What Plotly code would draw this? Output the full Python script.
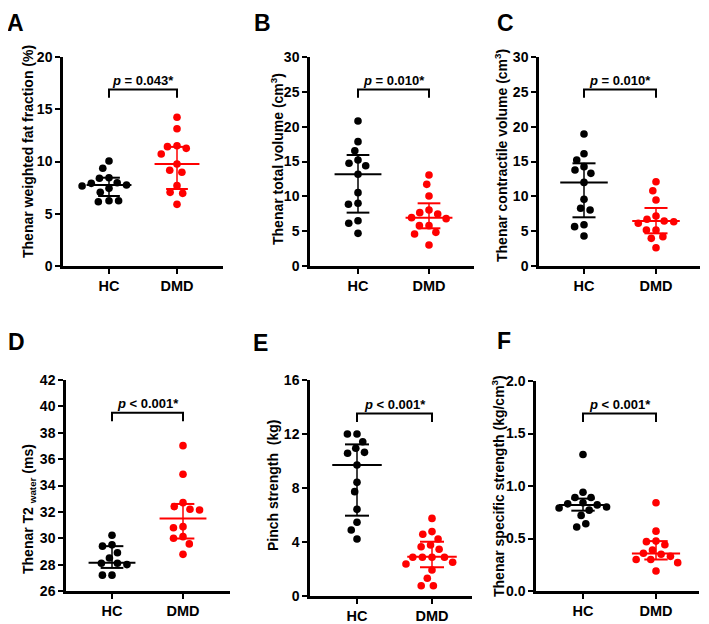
import numpy as np
import plotly.graph_objects as go

categories = ["HC", "DMD"]

# Panel A: Thenar weighted fat fraction (%)
a_hc = [10.05, 9.35, 8.4, 8.45, 7.97, 7.75, 7.65, 7.91, 7.43, 7.05, 6.15, 6.25, 6.25]
a_dmd = [14.23, 13.14, 11.51, 11.42, 11.26, 10.72, 9.76, 8.97, 9.16, 7.69, 6.95, 7.05, 5.9]
a_med = [7.75, 9.76]
a_q1 = [6.7, 7.37]
a_q3 = [8.45, 11.4]

# Panel B: Thenar total volume (cm3)
b_hc = [20.81, 17.85, 16.55, 15.22, 14.74, 14.4, 13.16, 10.53, 9.0, 8.86, 6.13, 6.5, 4.69]
b_dmd = [13.06, 11.72, 10.05, 8.04, 7.66, 7.46, 6.8, 6.94, 5.79, 5.79, 4.83, 4.6, 3.02]
b_med = [13.16, 6.94]
b_q1 = [7.66, 5.41]
b_q3 = [15.93, 9.0]

# Panel C: Thenar contractile volume (cm3)
c_hc = [18.95, 16.12, 15.22, 13.78, 14.26, 13.3, 12.0, 9.57, 8.28, 8.04, 5.93, 5.65, 4.31]
c_dmd = [12.1, 10.8, 9.47, 6.7, 7.18, 6.13, 6.36, 6.46, 5.17, 5.17, 4.21, 3.97, 2.63]
c_med = [12.0, 6.46]
c_q1 = [6.99, 4.69]
c_q3 = [14.74, 8.33]

# Panel D: Thenar T2 water (ms)
d_hc = [30.23, 29.5, 29.4, 28.9, 28.5, 28.1, 28.1, 28.0, 27.2, 27.2]
d_dmd = [37.02, 34.85, 32.7, 32.2, 32.14, 32.4, 30.88, 30.8, 30.12, 30.0, 29.57, 28.78]
d_med = [28.15, 31.5]
d_q1 = [27.75, 29.98]
d_q3 = [29.4, 32.6]

# Panel E: Pinch strength (kg)
e_hc = [12.0, 12.0, 11.43, 10.64, 10.94, 10.57, 9.7, 8.42, 7.73, 6.42, 5.46, 4.89, 4.22]
e_dmd = [5.75, 4.77, 4.57, 4.22, 3.65, 3.78, 3.46, 2.87, 2.87, 2.87, 2.5, 2.87, 2.37,
         1.93, 1.31, 0.76, 0.76]
e_med = [9.7, 2.91]
e_q1 = [5.95, 2.13]
e_q3 = [11.23, 4.02]

# Panel F: Thenar specific strength (kg/cm3)
f_hc = [1.30, 0.94, 0.89, 0.89, 0.84, 0.83, 0.82, 0.80, 0.79, 0.77, 0.72, 0.64, 0.61]
f_dmd = [0.84, 0.57, 0.475, 0.47, 0.44, 0.39, 0.36, 0.35, 0.33, 0.30, 0.30, 0.27, 0.19]
f_med = [0.82, 0.358]
f_q1 = [0.765, 0.30]
f_q3 = [0.88, 0.475]

letters = ["A", "B", "C", "D", "E", "F"]
y_titles = [
    "Thenar weighted fat fraction (%)",
    "Thenar total volume (cm<sup>3</sup>)",
    "Thenar contractile volume (cm<sup>3</sup>)",
    "Thenar T2 <sub>water</sub> (ms)",
    "Pinch strength  (kg)",
    "Thenar specific strength (kg/cm<sup>3</sup>)",
]
p_labels = ["<i>p</i> = 0.043*", "<i>p</i> = 0.010*", "<i>p</i> = 0.010*",
            "<i>p</i> < 0.001*", "<i>p</i> < 0.001*", "<i>p</i> < 0.001*"]
y_ranges = [(0, 20), (0, 30), (0, 30), (26, 42), (0, 16), (0, 2)]
y_dticks = [5, 5, 5, 2, 4, 0.5]

data = [
    (a_hc, a_dmd, a_med, a_q1, a_q3),
    (b_hc, b_dmd, b_med, b_q1, b_q3),
    (c_hc, c_dmd, c_med, c_q1, c_q3),
    (d_hc, d_dmd, d_med, d_q1, d_q3),
    (e_hc, e_dmd, e_med, e_q1, e_q3),
    (f_hc, f_dmd, f_med, f_q1, f_q3),
]

# page has an 8 px body margin; positions below are in window pixels
OFF = 8
W, H = 709 - OFF, 624 - OFF
# x0, x1, hc_x, spacing, ytop, ybot, title_x, title_yc, letter_x, letter_y
boxes = [
    (63, 223, 109, 68, 57, 266, 28, 152, 15, 23),
    (310, 474, 358, 71, 57, 266, 277, 159, 262, 23),
    (539, 700, 584, 72, 57, 266, 501, 156, 505, 23),
    (66, 230, 112, 71, 380, 591, 29, 509, 16, 342),
    (310, 472, 357, 75, 380, 596, 273, 486, 260, 343),
    (536, 699, 583, 73, 381, 591, 498, 486, 504, 341),
]


def fx(px):
    return (px - OFF) / W


def fy(py):
    return 1 - (py - OFF) / H


colors = ["#000000", "#FF0000"]
FONT = "Arial, Liberation Sans, sans-serif"
DOT_PX = 9.6


def swarm(vals, ppu_x, ppu_y, dpx=DOT_PX):
    vals = np.asarray(vals, dtype=float)
    order = np.argsort(-vals, kind="stable")
    placed = []
    xs = np.zeros(len(vals))
    for i in order:
        y = vals[i] * ppu_y
        cands = [0.0]
        for (px, py) in placed:
            dy = abs(py - y)
            if dy < dpx:
                dx = np.sqrt(dpx ** 2 - dy ** 2)
                cands += [px + dx, px - dx]
        ok = [c for c in cands
              if all((c - px) ** 2 + (y - py) ** 2 >= dpx ** 2 - 1e-6 for px, py in placed)]
        best = min(ok, key=lambda c: (abs(c), c))
        placed.append((best, y))
        xs[i] = best / ppu_x
    return xs


fig = go.Figure()
annotations = []
shapes = []

for k in range(6):
    x0, x1, hcx, sp, ytop, ybot, tx, tyc, lx, ly = boxes[k]
    hc, dmd, med, q1, q3 = data[k]
    ymin, ymax = y_ranges[k]
    ppu_y = (ybot - ytop) / (ymax - ymin)
    sfx = "" if k == 0 else str(k + 1)
    xa, ya = "x" + sfx, "y" + sfx

    # summary lines (median with interquartile range)
    for g in range(2):
        lx_, ly_ = [], []
        lx_ += [g - 0.33, g + 0.33, None]
        ly_ += [med[g], med[g], None]
        lx_ += [g - 0.16, g + 0.16, None, g - 0.16, g + 0.16, None]
        ly_ += [q1[g], q1[g], None, q3[g], q3[g], None]
        fig.add_trace(go.Scatter(x=lx_, y=ly_, mode="lines", xaxis=xa, yaxis=ya,
                                 line=dict(color=colors[g], width=2),
                                 showlegend=False, hoverinfo="skip"))
        fig.add_trace(go.Scatter(x=[g, g], y=[q1[g], q3[g]], mode="lines", xaxis=xa, yaxis=ya,
                                 line=dict(color=colors[g], width=1.5),
                                 showlegend=False, hoverinfo="skip"))

    for g, vals in enumerate([hc, dmd]):
        offs = swarm(vals, sp, ppu_y)
        fig.add_trace(go.Scatter(x=g + offs, y=vals, mode="markers", xaxis=xa, yaxis=ya,
                                 marker=dict(color=colors[g], size=7.6, line=dict(width=0)),
                                 showlegend=False, name=categories[g]))

    xr = [(x0 - hcx) / sp, (x1 - hcx) / sp]
    axis_common = dict(showline=True, linecolor="black", linewidth=2.5, ticks="outside",
                       ticklen=5, tickwidth=2, tickcolor="black", showgrid=False,
                       zeroline=False, mirror=False, automargin=False)
    fig.update_layout(**{
        ("xaxis" + sfx): dict(domain=[fx(x0), fx(x1)], range=xr, anchor=ya,
                              tickvals=[0, 1], ticktext=categories,
                              tickfont=dict(family=FONT, size=14.5, color="black", weight="bold"),
                              **axis_common),
        ("yaxis" + sfx): dict(domain=[fy(ybot), fy(ytop)], range=[ymin, ymax], anchor=xa,
                              dtick=y_dticks[k], tick0=ymin,
                              tickformat=".1f" if k == 5 else "d",
                              tickfont=dict(family=FONT, size=14, color="black", weight="bold"),
                              **axis_common),
    })

    # y title
    annotations.append(dict(text="<b>" + y_titles[k] + "</b>", x=fx(tx), y=fy(tyc),
                            xref="paper", yref="paper", textangle=-90, showarrow=False,
                            xanchor="center", yanchor="middle",
                            font=dict(family=FONT, size=14, color="black")))
    # panel letter
    annotations.append(dict(text="<b>" + letters[k] + "</b>", x=fx(lx), y=fy(ly),
                            xref="paper", yref="paper", showarrow=False,
                            xanchor="center", yanchor="middle", borderpad=0,
                            font=dict(family=FONT, size=23, color="black")))
    # significance bracket
    shapes.append(dict(type="path", xref=xa, yref=ya + " domain",
                       path="M 0,0.805 L 0,0.845 L 1,0.845 L 1,0.805",
                       line=dict(color="black", width=2)))
    annotations.append(dict(text="<b>" + p_labels[k] + "</b>", x=0.5, y=0.888,
                            xref=xa, yref=ya + " domain", showarrow=False,
                            xanchor="center", yanchor="middle",
                            font=dict(family=FONT, size=13, color="black")))

fig.update_layout(template="none", width=W, height=H, margin=dict(l=0, r=0, t=0, b=0, pad=0),
                  paper_bgcolor="white", plot_bgcolor="white",
                  annotations=annotations, shapes=shapes, showlegend=False)

fig.write_html("out.html")
